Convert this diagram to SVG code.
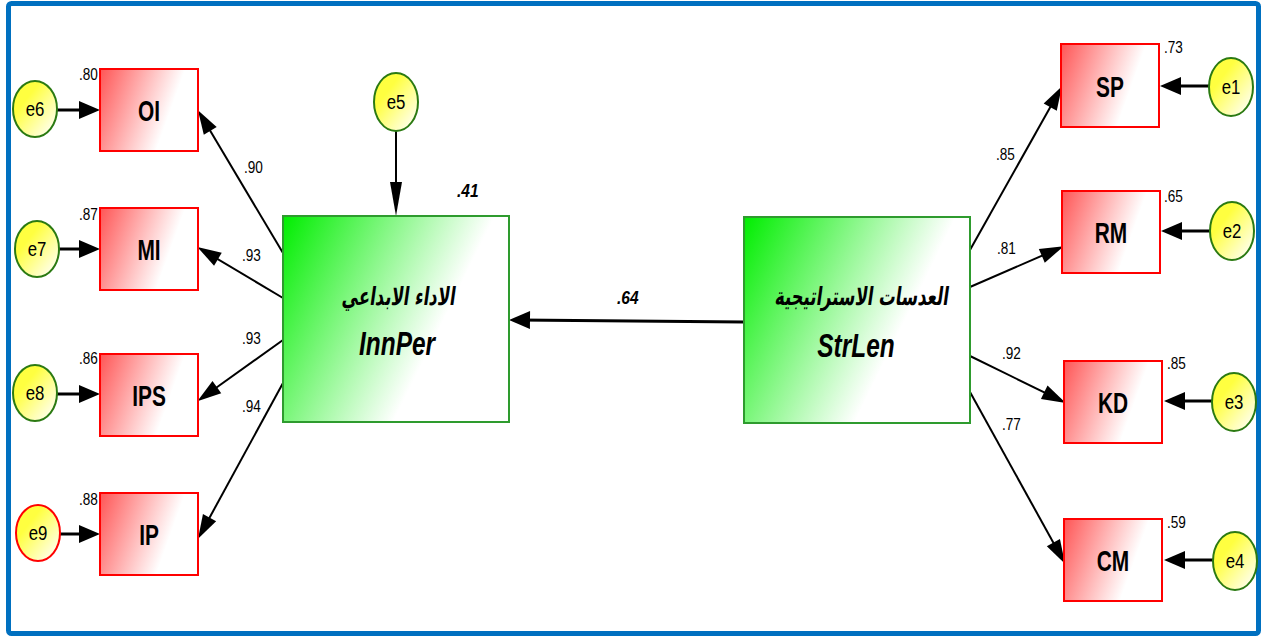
<svg xmlns="http://www.w3.org/2000/svg" width="1261" height="636" viewBox="0 0 1261 636">
  <defs>
    <linearGradient id="gLatent" x1="0" y1="0" x2="1" y2="0.45">
      <stop offset="0" stop-color="#00ee00"/>
      <stop offset="0.78" stop-color="#ffffff"/>
    </linearGradient>
    <linearGradient id="gObs" x1="0" y1="0" x2="1" y2="0.3">
      <stop offset="0" stop-color="#ff5555"/>
      <stop offset="0.8" stop-color="#ffffff"/>
    </linearGradient>
    <linearGradient id="gErr" x1="0.1" y1="0.1" x2="0.95" y2="0.95">
      <stop offset="0.25" stop-color="#ffff40"/>
      <stop offset="1" stop-color="#ffffff"/>
    </linearGradient>
    <marker id="mErr" markerUnits="userSpaceOnUse" markerWidth="21" markerHeight="18" refX="11" refY="9" orient="auto" overflow="visible">
      <path d="M0,0 L21,9 L0,18 z" fill="#000"/>
    </marker>
    <marker id="mPath" markerUnits="userSpaceOnUse" markerWidth="24" markerHeight="15" refX="12" refY="7.5" orient="auto" overflow="visible">
      <path d="M0,0 L24,7.5 L0,15 z" fill="#000"/>
    </marker>
    <marker id="mE5" markerUnits="userSpaceOnUse" markerWidth="34" markerHeight="12" refX="24" refY="6" orient="auto" overflow="visible">
      <path d="M0,0 L34,6 L0,12 z" fill="#000"/>
    </marker>
  </defs>
  <style>
    .frame { fill:#ffffff; stroke:#0070c0; stroke-width:5 }
    .latent { fill:url(#gLatent); stroke:#2e9b2e; stroke-width:2 }
    .obs { fill:url(#gObs); stroke:#ff0000; stroke-width:2 }
    .err { fill:url(#gErr); stroke:#2b7a12; stroke-width:2 }
    .err.red { stroke:#ff0000 }
    .path { fill:none; stroke:#000; stroke-width:2; marker-end:url(#mPath) }
    .eline { fill:none; stroke:#000; stroke-width:3; marker-end:url(#mErr) }
    .t { font-family:"Liberation Sans",Arial,sans-serif; fill:#000 }
    .tObs { font-size:29px; font-weight:bold; text-anchor:middle }
    .tErr { font-size:21px; text-anchor:middle }
    .tLat { font-size:33px; font-weight:bold; font-style:italic; text-anchor:middle }
    .tAr { font-family:"DejaVu Sans",sans-serif; font-size:25px; font-weight:bold; text-anchor:middle; fill:#000 }
    .tCoef { font-size:16px }
    .tStd { font-size:19px; font-weight:bold; font-style:italic }
  </style>

  <!-- outer frame -->
  <rect class="frame" x="8.5" y="3.5" width="1250" height="630" rx="3"/>

  <!-- connectors -->
  <g id="connectors">
    <!-- structural path -->
    <line x1="744" y1="322" x2="519" y2="320" stroke="#000" stroke-width="3" marker-end="url(#mErr)"/>
    <text class="t tStd" transform="translate(617,304) scale(0.82,1)">.64</text>
    <!-- disturbance on InnPer -->
    <line x1="396" y1="131" x2="396" y2="206" stroke="#000" stroke-width="2" marker-end="url(#mE5)"/>
    <text class="t tStd" transform="translate(457,197) scale(0.82,1)">.41</text>

    <!-- InnPer loadings -->
    <line class="path" x1="283" y1="253" x2="204.1" y2="120.6"/>
    <line class="path" x1="283" y1="298" x2="207.6" y2="253.1"/>
    <line class="path" x1="283" y1="340" x2="207.1" y2="394.2"/>
    <line class="path" x1="283" y1="383" x2="203.8" y2="528.2"/>
    <text class="t tCoef" transform="translate(244,173) scale(0.85,1)">.90</text>
    <text class="t tCoef" transform="translate(242,261) scale(0.85,1)">.93</text>
    <text class="t tCoef" transform="translate(242,344) scale(0.85,1)">.93</text>
    <text class="t tCoef" transform="translate(242,412) scale(0.85,1)">.94</text>

    <!-- StrLen loadings -->
    <line class="path" x1="970" y1="250" x2="1056.1" y2="96.7"/>
    <line class="path" x1="970" y1="287" x2="1052.8" y2="251"/>
    <line class="path" x1="970" y1="356" x2="1055" y2="397.6"/>
    <line class="path" x1="970" y1="392" x2="1059.2" y2="553.2"/>
    <text class="t tCoef" transform="translate(996,160) scale(0.85,1)">.85</text>
    <text class="t tCoef" transform="translate(997,254) scale(0.85,1)">.81</text>
    <text class="t tCoef" transform="translate(1002,359) scale(0.85,1)">.92</text>
    <text class="t tCoef" transform="translate(1002,430) scale(0.85,1)">.77</text>

    <!-- error terms, left -->
    <line class="eline" x1="57" y1="110" x2="90" y2="110"/>
    <line class="eline" x1="59" y1="249" x2="90" y2="249"/>
    <line class="eline" x1="57" y1="394" x2="90" y2="394"/>
    <line class="eline" x1="60" y1="534" x2="90" y2="534"/>
    <!-- error terms, right -->
    <line class="eline" x1="1209" y1="86" x2="1170" y2="86"/>
    <line class="eline" x1="1210" y1="231" x2="1171" y2="231"/>
    <line class="eline" x1="1212" y1="401" x2="1174" y2="401"/>
    <line class="eline" x1="1213" y1="560" x2="1174" y2="560"/>
  </g>

  <!-- latent variables -->
  <g id="InnPer">
    <rect class="latent" x="283" y="216" width="226" height="206"/>
    <text class="tAr" transform="translate(398,305) scale(0.66,1) skewX(-12)">الاداء الابداعي</text>
    <text class="t tLat" transform="translate(397,355) scale(0.74,1)">InnPer</text>
  </g>
  <g id="StrLen">
    <rect class="latent" x="744" y="217" width="226" height="206"/>
    <text class="tAr" transform="translate(861,305) scale(0.66,1) skewX(-12)">العدسات الاستراتيجية</text>
    <text class="t tLat" transform="translate(856,357) scale(0.74,1)">StrLen</text>
  </g>

  <!-- indicators of InnPer -->
  <g id="OI">
    <rect class="obs" x="100" y="69" width="98" height="82"/>
    <text class="t tObs" transform="translate(149,121) scale(0.72,1)">OI</text>
    <text class="t tCoef" transform="translate(79,80) scale(0.85,1)">.80</text>
  </g>
  <g id="MI">
    <rect class="obs" x="100" y="208" width="98" height="82"/>
    <text class="t tObs" transform="translate(149,260) scale(0.72,1)">MI</text>
    <text class="t tCoef" transform="translate(79,220) scale(0.85,1)">.87</text>
  </g>
  <g id="IPS">
    <rect class="obs" x="100" y="354" width="98" height="82"/>
    <text class="t tObs" transform="translate(149,406) scale(0.72,1)">IPS</text>
    <text class="t tCoef" transform="translate(79,364) scale(0.85,1)">.86</text>
  </g>
  <g id="IP">
    <rect class="obs" x="100" y="493" width="98" height="82"/>
    <text class="t tObs" transform="translate(149,545) scale(0.72,1)">IP</text>
    <text class="t tCoef" transform="translate(79,505) scale(0.85,1)">.88</text>
  </g>

  <!-- indicators of StrLen -->
  <g id="SP">
    <rect class="obs" x="1061" y="44" width="98" height="83"/>
    <text class="t tObs" transform="translate(1110,97) scale(0.72,1)">SP</text>
    <text class="t tCoef" transform="translate(1164,53) scale(0.85,1)">.73</text>
  </g>
  <g id="RM">
    <rect class="obs" x="1062" y="191" width="98" height="82"/>
    <text class="t tObs" transform="translate(1111,243) scale(0.72,1)">RM</text>
    <text class="t tCoef" transform="translate(1164,202) scale(0.85,1)">.65</text>
  </g>
  <g id="KD">
    <rect class="obs" x="1064" y="361" width="98" height="82"/>
    <text class="t tObs" transform="translate(1113,413) scale(0.72,1)">KD</text>
    <text class="t tCoef" transform="translate(1167,369) scale(0.85,1)">.85</text>
  </g>
  <g id="CM">
    <rect class="obs" x="1064" y="519" width="98" height="82"/>
    <text class="t tObs" transform="translate(1113,571) scale(0.72,1)">CM</text>
    <text class="t tCoef" transform="translate(1167,528) scale(0.85,1)">.59</text>
  </g>

  <!-- error terms -->
  <g id="e5">
    <ellipse class="err" cx="396" cy="102" rx="22" ry="29"/>
    <text class="t tErr" transform="translate(396,109) scale(0.8,1)">e5</text>
  </g>
  <g id="e6">
    <ellipse class="err" cx="35" cy="109" rx="22" ry="28"/>
    <text class="t tErr" transform="translate(35,116) scale(0.8,1)">e6</text>
  </g>
  <g id="e7">
    <ellipse class="err" cx="37" cy="249" rx="22" ry="28"/>
    <text class="t tErr" transform="translate(37,256) scale(0.8,1)">e7</text>
  </g>
  <g id="e8">
    <ellipse class="err" cx="35" cy="393" rx="22" ry="28"/>
    <text class="t tErr" transform="translate(35,400) scale(0.8,1)">e8</text>
  </g>
  <g id="e9">
    <ellipse class="err red" cx="38" cy="533" rx="22" ry="28"/>
    <text class="t tErr" transform="translate(38,540) scale(0.8,1)">e9</text>
  </g>
  <g id="e1">
    <ellipse class="err" cx="1231" cy="87" rx="22" ry="29"/>
    <text class="t tErr" transform="translate(1231,94) scale(0.8,1)">e1</text>
  </g>
  <g id="e2">
    <ellipse class="err" cx="1232" cy="231" rx="22" ry="29"/>
    <text class="t tErr" transform="translate(1232,238) scale(0.8,1)">e2</text>
  </g>
  <g id="e3">
    <ellipse class="err" cx="1234" cy="402" rx="22" ry="29"/>
    <text class="t tErr" transform="translate(1234,409) scale(0.8,1)">e3</text>
  </g>
  <g id="e4">
    <ellipse class="err" cx="1235" cy="561" rx="22" ry="29"/>
    <text class="t tErr" transform="translate(1235,568) scale(0.8,1)">e4</text>
  </g>
</svg>
